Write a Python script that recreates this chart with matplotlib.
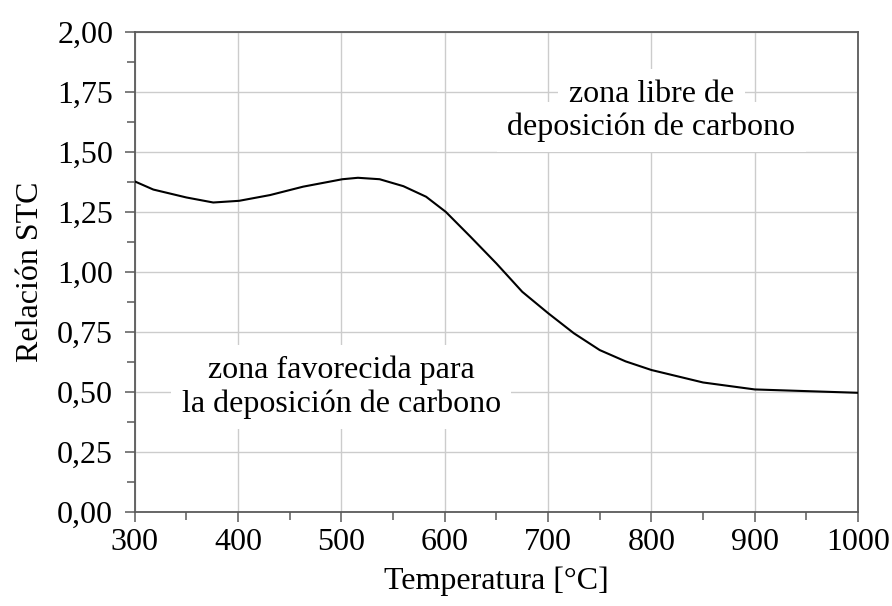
import matplotlib
matplotlib.use("Agg")
import matplotlib.pyplot as plt
from matplotlib.ticker import MultipleLocator

plt.rcParams['font.family'] = ['Liberation Serif', 'DejaVu Serif']

# Temperatura [°C] vs relación STC
temperatura = [300, 318, 350, 376, 401, 431, 463, 501, 516, 537, 560, 582,
               601, 625, 650, 675, 700, 725, 750, 775, 800, 850, 900, 950, 1000]
relacion_stc = [1.378, 1.344, 1.311, 1.290, 1.297, 1.321, 1.356, 1.387, 1.393,
                1.387, 1.358, 1.314, 1.251, 1.147, 1.036, 0.918, 0.829, 0.745,
                0.675, 0.628, 0.592, 0.540, 0.511, 0.504, 0.497]

x_ticks = [300, 400, 500, 600, 700, 800, 900, 1000]
y_ticks = [0.0, 0.25, 0.5, 0.75, 1.0, 1.25, 1.5, 1.75, 2.0]
y_labels = ['0,00', '0,25', '0,50', '0,75', '1,00', '1,25', '1,50', '1,75', '2,00']

# anotaciones (texto, x, y)
anotaciones = [('zona libre de', 800, 1.74),
               ('deposición de carbono', 800, 1.605),
               ('zona favorecida para', 500, 0.59),
               ('la deposición de carbono', 500, 0.45)]

fs = 23

fig = plt.figure(figsize=(8.92, 6.06), dpi=100)
ax = fig.add_axes([0.151, 0.155, 0.811, 0.792])

ax.plot(temperatura, relacion_stc, color='black', lw=1.5, zorder=4)

ax.set_xlim(300, 1000)
ax.set_ylim(0, 2)
ax.set_xticks(x_ticks)
ax.set_yticks(y_ticks)
ax.set_yticklabels(y_labels)
ax.xaxis.set_minor_locator(MultipleLocator(50))
ax.yaxis.set_minor_locator(MultipleLocator(0.125))

ax.grid(True, which='major', color='#cccccc', lw=1.0, zorder=0)
ax.set_axisbelow(True)

spine_color = '#5a5a5a'
for s in ax.spines.values():
    s.set_color(spine_color)
    s.set_linewidth(1.3)

ax.tick_params(which='major', direction='out', length=7.5, width=1.1,
               color=spine_color, labelsize=fs, top=False, right=False)
ax.tick_params(which='minor', direction='out', length=6, width=1.1,
               color=spine_color, top=False, right=False)
ax.tick_params(axis='x', pad=4)
ax.tick_params(axis='y', pad=8)

ax.set_xlabel('Temperatura [°C]', fontsize=fs, labelpad=7)
ax.set_ylabel('Relación STC', fontsize=fs, labelpad=9)

# white boxes first, then the text on top so boxes never hide letters
box = dict(boxstyle='square,pad=0.33', fc='white', ec='none')
for txt, tx, ty in anotaciones:
    ax.text(tx, ty, txt, fontsize=fs, ha='center', va='center',
            color=(0, 0, 0, 0), bbox=box, zorder=3)
for txt, tx, ty in anotaciones:
    ax.text(tx, ty, txt, fontsize=fs, ha='center', va='center',
            color='black', zorder=3.5)

fig.savefig('out.png', dpi=100)
